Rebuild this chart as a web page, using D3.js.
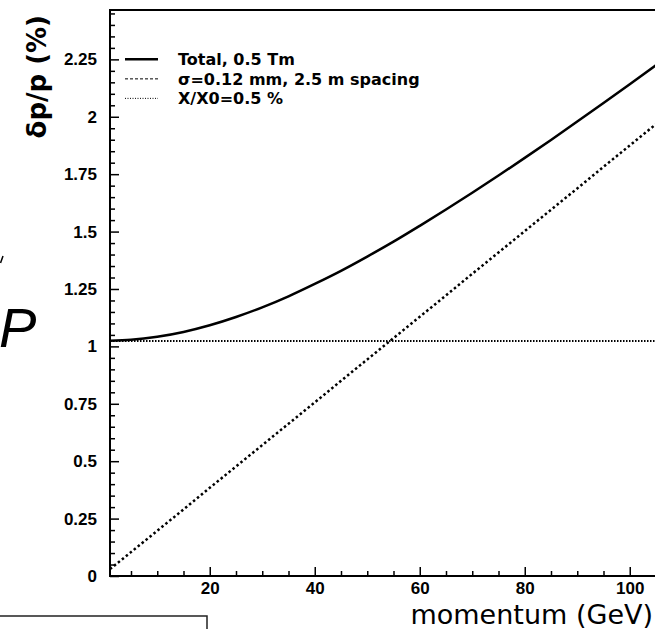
<!DOCTYPE html>
<html>
<head>
<meta charset="utf-8">
<script src="https://cdn.jsdelivr.net/npm/d3@7"></script>
<style>
  body { margin: 0; background: #fff; }
  svg { display: block; font-family: "DejaVu Sans", sans-serif; }
</style>
</head>
<body>
<svg id="chart" width="655" height="629"></svg>
<script>
// values
const momentum = [1, 5, 10, 15, 20, 25, 30, 35, 40, 45, 50, 55, 60, 65, 70, 75, 80, 85, 90, 95, 100, 105];
const totalRes = [1.025, 1.029, 1.042, 1.063, 1.092, 1.128, 1.170, 1.218, 1.272, 1.329, 1.391, 1.456,
                  1.525, 1.596, 1.669, 1.744, 1.821, 1.899, 1.979, 2.060, 2.142, 2.225];
const hitRes = [0.03, 0.104, 0.197, 0.290, 0.384, 0.477, 0.570, 0.663, 0.756, 0.850, 0.943, 1.036,
                1.129, 1.222, 1.316, 1.409, 1.502, 1.595, 1.688, 1.782, 1.875, 1.968];
const msMomentum = [1, 105];
const msRes = [1.023, 1.023];

const legendLabels = ["Total, 0.5 Tm", "\u03c3=0.12 mm, 2.5 m spacing", "X/X0=0.5 %"];
const xMajor = [20, 40, 60, 80, 100];
const yMajor = [0, 0.25, 0.5, 0.75, 1, 1.25, 1.5, 1.75, 2, 2.25];

const plotLeft = 110, plotRight = 656, plotTop = 10, plotBottom = 576;

const svg = d3.select("#chart");

const x = d3.scaleLinear().domain([1, 105]).range([plotLeft, plotRight]);
const y = d3.scaleLinear().domain([0, 2.465]).range([plotBottom, plotTop]);

// === AXES (ticks pointing inward, ROOT style) ===
const xMinor = d3.range(5, 106, 5).filter(v => v % 20 !== 0);
const yMinor = d3.range(0, 2.46, 0.05).filter(v => Math.abs(v * 4 - Math.round(v * 4)) > 1e-6);

svg.append("g")
  .attr("transform", `translate(0,${plotBottom})`)
  .call(d3.axisBottom(x).tickValues(xMajor).tickSize(-9).tickPadding(6).tickFormat(d3.format("d")));
svg.append("g")
  .attr("transform", `translate(0,${plotBottom})`)
  .call(d3.axisBottom(x).tickValues(xMinor).tickSize(-5).tickFormat(""));

svg.append("g")
  .attr("transform", `translate(${plotLeft},0)`)
  .call(d3.axisLeft(y).tickValues(yMajor).tickSize(-9).tickPadding(13).tickFormat(d => String(d)));
svg.append("g")
  .attr("transform", `translate(${plotLeft},0)`)
  .call(d3.axisLeft(y).tickValues(yMinor).tickSize(-5).tickFormat(""));

svg.selectAll(".domain").remove();
svg.selectAll(".tick line").attr("stroke", "#000").attr("stroke-width", 1.5);
svg.selectAll(".tick text")
  .attr("fill", "#000")
  .style("font-size", "17px")
  .style("font-weight", "bold");

// frame
svg.append("rect")
  .attr("x", plotLeft).attr("y", plotTop)
  .attr("width", plotRight - plotLeft).attr("height", plotBottom - plotTop)
  .attr("fill", "none").attr("stroke", "#000").attr("stroke-width", 2);

// === CURVES ===
svg.append("clipPath").attr("id", "plotClip")
  .append("rect").attr("x", plotLeft).attr("y", plotTop)
  .attr("width", plotRight - plotLeft).attr("height", plotBottom - plotTop);

const line = d3.line().x(d => x(d[0])).y(d => y(d[1]));
const curves = svg.append("g").attr("clip-path", "url(#plotClip)");

curves.append("path")
  .datum(d3.zip(msMomentum, msRes))
  .attr("d", line)
  .attr("fill", "none").attr("stroke", "#000")
  .attr("stroke-width", 2).attr("stroke-dasharray", "1.5,1.5");

curves.append("path")
  .datum(d3.zip(momentum, hitRes))
  .attr("d", line)
  .attr("fill", "none").attr("stroke", "#000")
  .attr("stroke-width", 2.5).attr("stroke-dasharray", "2.5,2.6");

curves.append("path")
  .datum(d3.zip(momentum, totalRes))
  .attr("d", d3.line().curve(d3.curveMonotoneX).x(d => x(d[0])).y(d => y(d[1])))
  .attr("fill", "none").attr("stroke", "#000")
  .attr("stroke-width", 2.5);

// === LEGEND ===
const legendDash = [null, "3,2", "1,1.5"];
const legendWidth = [2.5, 1, 1];
const legend = svg.append("g");
legendLabels.forEach((label, i) => {
  const ly = y(2.25) + i * 19.5;
  legend.append("line")
    .attr("x1", 125).attr("x2", 158).attr("y1", ly).attr("y2", ly)
    .attr("stroke", "#000").attr("stroke-width", legendWidth[i])
    .attr("stroke-dasharray", legendDash[i]);
  legend.append("text")
    .attr("x", 178).attr("y", ly).attr("dy", "0.36em")
    .style("font-size", "16px")
    .style("font-weight", "bold")
    .text(label);
});

// === AXIS TITLES ===
svg.append("text")
  .attr("x", 653).attr("y", 624)
  .attr("text-anchor", "end")
  .style("font-size", "27px")
  .text("momentum (GeV)");

svg.append("text")
  .attr("transform", "translate(46,15) rotate(-90)")
  .attr("text-anchor", "end")
  .style("font-size", "26px")
  .style("font-weight", "bold")
  .text("\u03b4p/p (%)");

// === fragments of the neighbouring figure ===
svg.append("text")
  .attr("x", -1).attr("y", 347)
  .style("font-family", "'Liberation Sans', sans-serif")
  .style("font-style", "italic")
  .style("font-size", "56px")
  .text("P");
svg.append("line")
  .attr("x1", 0.5).attr("y1", 263).attr("x2", 3).attr("y2", 256)
  .attr("stroke", "#000").attr("stroke-width", 1.5);
svg.append("path")
  .attr("d", "M0,616H207V629")
  .attr("fill", "none").attr("stroke", "#222").attr("stroke-width", 1.5);
</script>
</body>
</html>
